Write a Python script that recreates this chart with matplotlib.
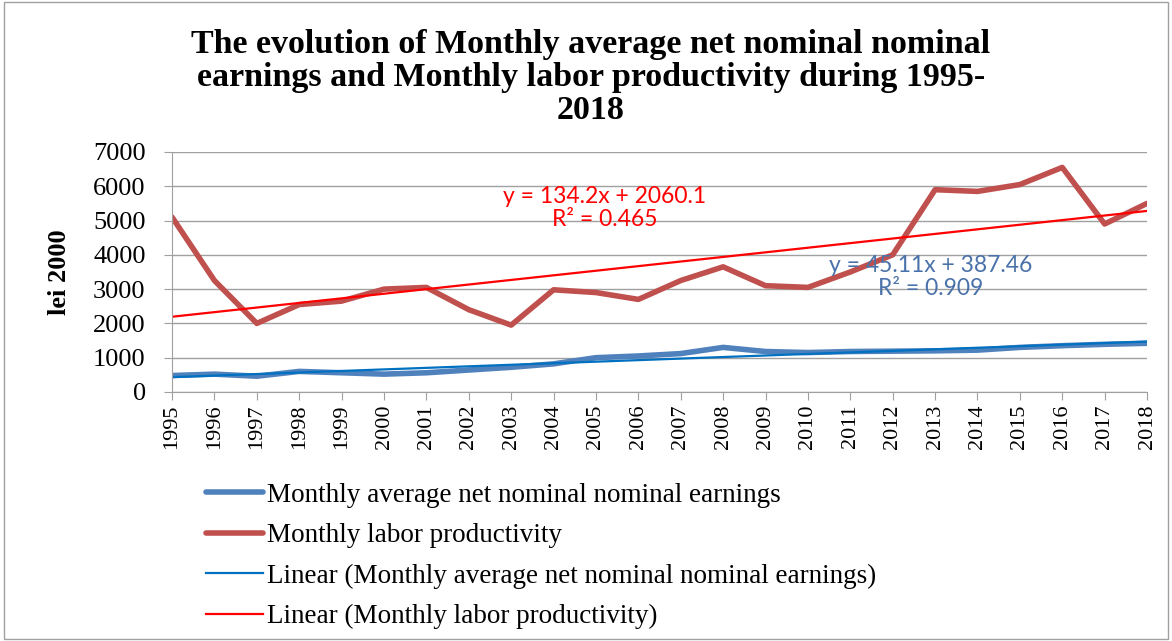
import numpy as np
import matplotlib
matplotlib.use('Agg')
import matplotlib.pyplot as plt
from matplotlib.patches import Rectangle

years = list(range(1995, 2019))
earnings = [480, 520, 460, 600, 560, 520, 560, 640, 720, 820, 1000, 1050,
            1120, 1300, 1180, 1150, 1180, 1190, 1200, 1220, 1300, 1350, 1390, 1420]
productivity = [5100, 3250, 2000, 2550, 2650, 3000, 3050, 2400, 1950, 2980, 2900, 2700,
                3250, 3650, 3100, 3050, 3500, 4000, 5900, 5850, 6050, 6550, 4900, 5500]
trend_earn = (45.11, 387.46)
trend_prod = (134.2, 2060.1)

serif = 'Liberation Serif'

fig = plt.figure(figsize=(11.72, 6.41), dpi=100)
ax = fig.add_axes([0.1468, 0.3885, 0.8319, 0.3744])

idx = np.arange(1, len(years) + 1)
ax.plot(years, earnings, color='#4F81BD', lw=4, solid_capstyle='round')
ax.plot(years, productivity, color='#C0504D', lw=4, solid_capstyle='round')
ax.plot(years, trend_earn[0] * idx + trend_earn[1], color='#0070C0', lw=1.6)
ax.plot(years, trend_prod[0] * idx + trend_prod[1], color='#FF0000', lw=1.6)

ax.set_xlim(1995, 2018)
ax.set_ylim(0, 7000)
ax.set_yticks(range(0, 7001, 1000))
ax.set_xticks(years)
ax.set_xticklabels([str(y) for y in years], rotation=90, fontfamily=serif, fontsize=16)
for t in ax.get_yticklabels():
    t.set_fontfamily(serif)
    t.set_fontsize(19)
ax.grid(axis='y', color='#A0A0A0', lw=1)
ax.set_axisbelow(True)
for s in ['top', 'right']:
    ax.spines[s].set_visible(False)
for s in ['left', 'bottom']:
    ax.spines[s].set_color('#A0A0A0')
ax.tick_params(axis='both', color='#A0A0A0', length=6)
ax.tick_params(axis='y', pad=13)
ax.tick_params(axis='x', pad=3)
ax.set_ylabel('lei 2000', fontfamily=serif, fontweight='bold', fontsize=19, labelpad=16)

ax.text(2005.2, 5367, 'y = 134.2x + 2060.1\nR² = 0.465', color='#FF0000',
        fontfamily='Lato', fontsize=16.5, ha='center', va='center', linespacing=1.15)
ax.text(2012.9, 3354, 'y = 45.11x + 387.46\nR² = 0.909', color='#4A72AA',
        fontfamily='Lato', fontsize=16.5, ha='center', va='center', linespacing=1.15)

fig.text(0.504, 0.879,
         'The evolution of Monthly average net nominal nominal\n'
         'earnings and Monthly labor productivity during 1995-\n2018',
         ha='center', va='center', fontfamily=serif, fontweight='bold', fontsize=24.5,
         linespacing=1.1)

handles = ax.get_lines()
labels = ['Monthly average net nominal nominal earnings',
          'Monthly labor productivity',
          'Linear (Monthly average net nominal nominal earnings)',
          'Linear (Monthly labor productivity)']
leg = fig.legend(handles, labels, loc='upper left', bbox_to_anchor=(0.176, 0.247),
                 frameon=False, prop={'family': serif, 'size': 19.5},
                 handlelength=2.1, handletextpad=0.15, labelspacing=0.57,
                 borderaxespad=0, borderpad=0)

fig.patches.append(Rectangle((0.003, 0.003), 0.994, 0.994, transform=fig.transFigure,
                             fill=False, edgecolor='#A0A0A0', lw=1))

fig.savefig('out.png', dpi=100)
